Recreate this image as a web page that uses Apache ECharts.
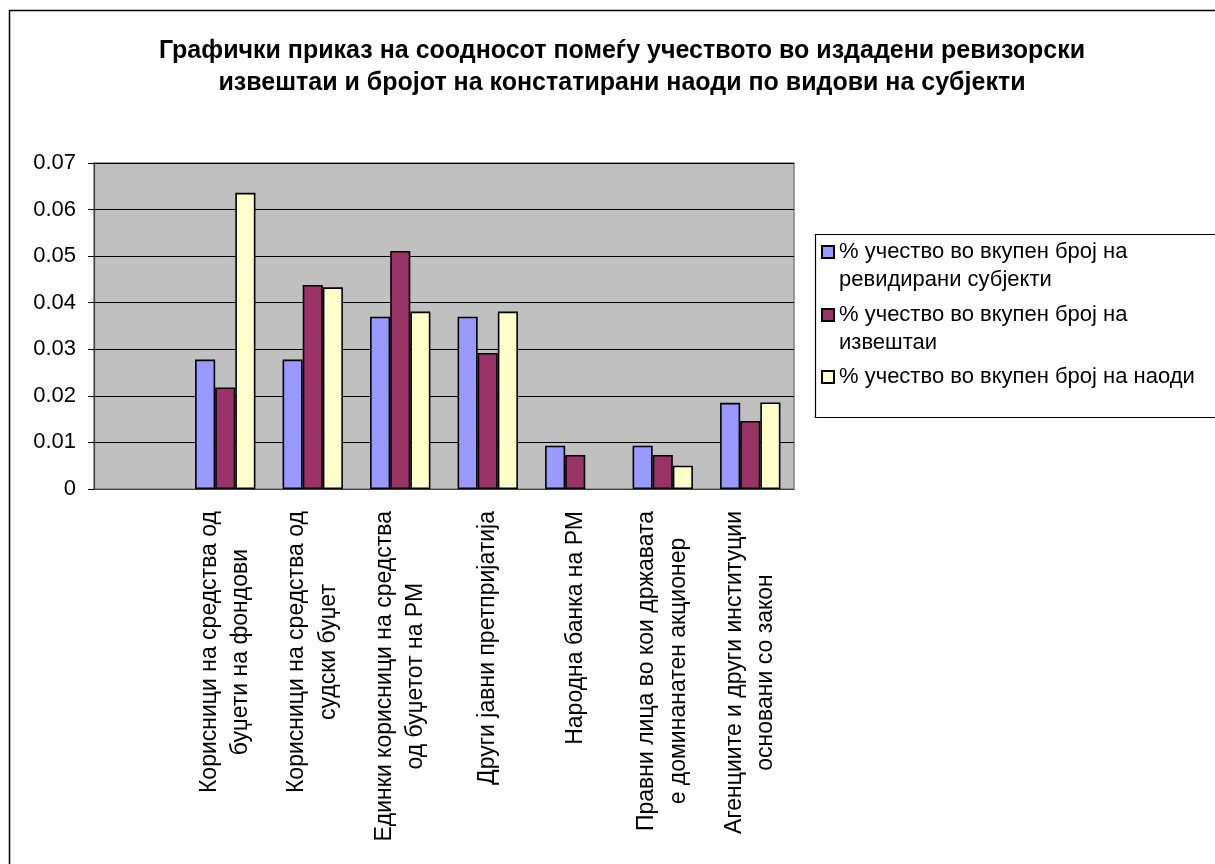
<!DOCTYPE html>
<html>
<head>
<meta charset="utf-8">
<title>Графички приказ</title>
<script src="https://cdn.jsdelivr.net/npm/echarts@6/dist/echarts.min.js"></script>
<style>
  html, body { margin: 0; padding: 0; background: #fff; }
  #main { width: 1215px; height: 864px; }
</style>
</head>
<body>
<div id="main"></div>
<script>
// категории (првата е празна, како во оригиналот)
var categories = [
  '',
  'Корисници на средства од\nбуџети на фондови',
  'Корисници на средства од\nсудски буџет',
  'Единки корисници на средства\nод буџетот на РМ',
  'Други јавни претпријатија',
  'Народна банка на РМ',
  'Правни лица во кои државата\nе доминанатен акционер',
  'Агенциите и други институции\nосновани со закон'
];
var seriesNames = [
  '% учество во вкупен број на\nревидирани субјекти',
  '% учество во вкупен број на\nизвештаи',
  '% учество во вкупен број на наоди'
];
var subjects = [null, 0.0278, 0.0278, 0.0370, 0.0370, 0.0093, 0.0093, 0.0185];
var reports  = [null, 0.0218, 0.0438, 0.0511, 0.0292, 0.0073, 0.0073, 0.0146];
var findings = [null, 0.0636, 0.0433, 0.0381, 0.0381, null, 0.0050, 0.0186];
var colors = ['#9999FF', '#993366', '#FFFFCC'];

var FONT = '"Liberation Sans", Arial, sans-serif';

var chart = echarts.init(document.getElementById('main'));

function bar(i, data) {
  return {
    name: seriesNames[i],
    type: 'bar',
    data: data,
    barGap: '0%',
    barCategoryGap: '31%',
    itemStyle: { color: colors[i], borderColor: '#000', borderWidth: 1.6 }
  };
}

// легенда: по една за секоја серија; празен ред напред за иконата да стои до првиот ред
function legendAt(i, top) {
  return {
    data: [seriesNames[i]],
    left: 821,
    top: top,
    padding: 0,
    icon: 'rect',
    itemWidth: 12,
    itemHeight: 12,
    selectedMode: false,
    formatter: function (name) {
      return name.indexOf('\n') >= 0 ? ' \n' + name : name;
    },
    textStyle: { fontFamily: FONT, fontSize: 22, lineHeight: 28, color: '#000' }
  };
}

chart.setOption({
  animation: false,
  textStyle: { fontFamily: FONT },
  title: {
    text: 'Графички приказ на соодносот помеѓу учеството во издадени ревизорски\nизвештаи и бројот на констатирани наоди по видови на субјекти',
    left: 617,
    top: 30,
    textAlign: 'center',
    textStyle: { fontFamily: FONT, fontSize: 25, fontWeight: 'bold', lineHeight: 32, color: '#000' }
  },
  legend: [
    legendAt(0, 210),
    legendAt(1, 273),
    legendAt(2, 363)
  ],
  graphic: [
    {
      type: 'rect', silent: true,
      shape: { x: 9.5, y: 10.5, width: 1400, height: 1000 },
      style: { fill: 'none', stroke: '#000', lineWidth: 1.5 }
    },
    {
      type: 'rect', silent: true,
      shape: { x: 815.5, y: 234.5, width: 600, height: 183 },
      style: { fill: 'none', stroke: '#000', lineWidth: 1.2 }
    }
  ],
  grid: {
    left: 94, right: 421, top: 163, bottom: 375,
    show: true,
    backgroundColor: '#C0C0C0',
    borderColor: '#808080',
    borderWidth: 1.5
  },
  xAxis: {
    type: 'category',
    data: categories,
    axisLine: { lineStyle: { color: '#404040', width: 1.2 } },
    axisTick: { length: 6, lineStyle: { color: '#000' } },
    axisLabel: {
      rotate: 90,
      interval: 0,
      margin: 22,
      color: '#000',
      fontFamily: FONT,
      fontSize: 23,
      formatter: function (v) {
        return v.split('\n').map(function (l) { return '{c|' + l + '}'; }).join('\n');
      },
      rich: { c: { align: 'center', fontFamily: FONT, fontSize: 23, lineHeight: 31.5, color: '#000' } }
    }
  },
  yAxis: {
    type: 'value',
    min: 0,
    max: 0.07,
    interval: 0.01,
    axisLine: { show: true, lineStyle: { color: '#404040', width: 1.2 } },
    axisTick: { show: true, length: 6, lineStyle: { color: '#000' } },
    splitLine: { lineStyle: { color: '#000', width: 1 } },
    axisLabel: {
      margin: 18,
      color: '#000',
      fontFamily: FONT,
      fontSize: 22,
      formatter: function (v) { return v === 0 ? '0' : v.toFixed(2); }
    }
  },
  series: [bar(0, subjects), bar(1, reports), bar(2, findings)]
});
</script>
</body>
</html>
